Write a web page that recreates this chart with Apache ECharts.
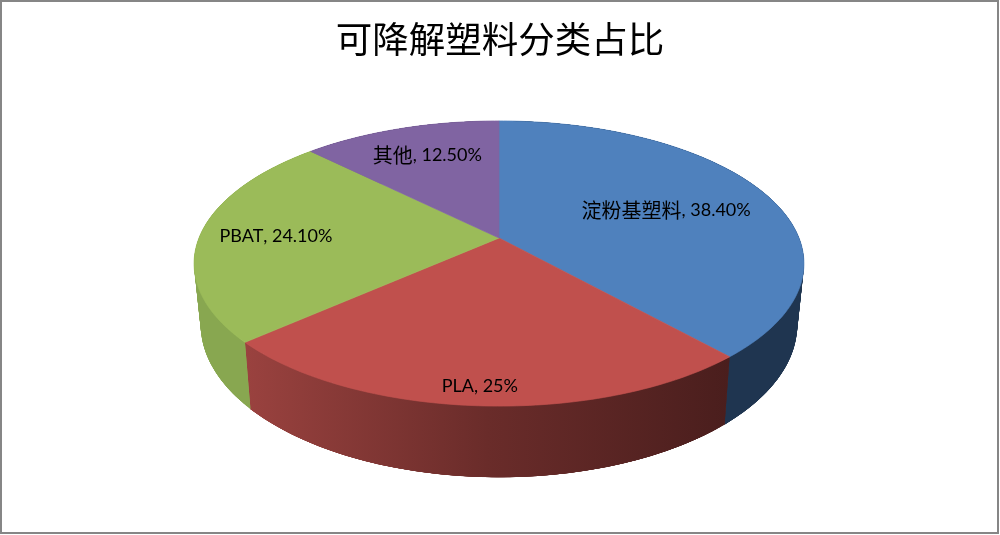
<!DOCTYPE html>
<html>
<head>
<meta charset="utf-8">
<style>html,body{margin:0;padding:0;background:#fff}#c{width:1000px;height:535px}</style>
<script src="https://cdn.jsdelivr.net/npm/echarts@6/dist/echarts.min.js"></script>
</head>
<body>
<div id="c"></div>
<script>
const titleText = '可降解塑料分类占比';
const categories = ['淀粉基塑料', 'PLA', 'PBAT', '其他'];
const values = [38.4, 25, 24.1, 12.5];
const valueLabels = ['38.40%', '25%', '24.10%', '12.50%'];

const topColors = ['#4F81BD', '#C0504D', '#9BBB59', '#8064A2'];
const wallStops = [
  [[0, '#1F3550'], [1, '#1F3550']],
  [[0, '#9A423F'], [0.5, '#6A2C2A'], [1, '#4A1E1D']],
  [[0, '#88A750'], [1, '#88A750']],
  [[0, '#5A4672'], [1, '#5A4672']]
];
const labelRadius = [0.62, 0.9, 0.74, 0.74];
const labelNudge = [[0, 2], [-1, 0], [-2, 1], [4, 1]];

/* perspective disc: u right, v towards the viewer */
const persp = 0.179;
const topPlane = {x: 499, y: 238, a: 300, b: 138};
const lowPlane = {x: 499, y: 297, a: 293.5, b: 148};
const total = values.reduce((s, v) => s + v, 0);
const starts = values.map((_, i) => values.slice(0, i).reduce((s, v) => s + v, 0));

function project(plane, fraction, r) {
  const th = fraction * 2 * Math.PI;
  const u = Math.sin(th) * r, v = -Math.cos(th) * r;
  const w = 1 - persp * v;
  return [plane.x + plane.a * u / w, plane.y + plane.b * v / w];
}
function arc(plane, i) {
  const from = starts[i] / total, to = (starts[i] + values[i]) / total;
  const n = Math.ceil((to - from) * 360);
  const pts = [];
  for (let k = 0; k <= n; k++) pts.push(project(plane, from + (to - from) * k / n, 1));
  return pts;
}
function richText(i) {
  return `{${/[^\x00-\x7f]/.test(categories[i]) ? 'c' : 'l'}|${categories[i]}}{l|, ${valueLabels[i]}}`;
}
const seriesData = values.map((v, i) => ({value: [v, i], name: categories[i]}));

const chart = echarts.init(document.getElementById('c'), null, {renderer: 'canvas'});
chart.setOption({
  animation: false,
  backgroundColor: '#ffffff',
  title: {
    text: titleText, left: 'center', top: 16,
    textStyle: {fontFamily: '"Noto Sans CJK SC"', fontSize: 36.5, fontWeight: 'normal', color: '#000000'}
  },
  graphic: [{
    type: 'rect', silent: true, z: 0,
    shape: {x: 1, y: 1, width: 997, height: 532},
    style: {fill: 'none', stroke: '#868686', lineWidth: 2}
  }],
  series: [
    {
      type: 'custom', coordinateSystem: 'none', z: 2, silent: true, data: seriesData,
      renderItem(params, api) {
        const i = api.value(1);
        const a = arc(topPlane, i), b = arc(lowPlane, i);
        const xs = a.concat(b).map(p => p[0]);
        const paint = {
          type: 'linear', global: true,
          x: Math.min(...xs), y: 0, x2: Math.max(...xs), y2: 0,
          colorStops: wallStops[i].map(s => ({offset: s[0], color: s[1]}))
        };
        const children = [{
          type: 'polygon',
          shape: {points: a.concat(b.slice().reverse())},
          style: {fill: paint}
        }];
        /* overlapping quads fill the tangent slivers beside the rim */
        for (let k = 0; k + 1 < a.length; k++) {
          const e = Math.min(k + 5, a.length - 1);
          children.push({
            type: 'polygon',
            shape: {points: [a[k], a[e], b[e], b[k]]},
            style: {fill: paint}
          });
        }
        return {type: 'group', children};
      }
    },
    {
      type: 'custom', coordinateSystem: 'none', z: 3, silent: true, data: seriesData,
      renderItem(params, api) {
        const i = api.value(1);
        return {
          type: 'polygon',
          shape: {points: [[topPlane.x, topPlane.y]].concat(arc(topPlane, i))},
          style: {fill: topColors[i], stroke: topColors[i], lineWidth: 0.7, lineJoin: 'round'}
        };
      }
    },
    {
      type: 'custom', coordinateSystem: 'none', z: 4, silent: true, data: seriesData,
      renderItem(params, api) {
        const i = api.value(1);
        const mid = (starts[i] + values[i] / 2) / total;
        const p = project(topPlane, mid, labelRadius[i]);
        return {
          type: 'text',
          style: {
            x: p[0] + labelNudge[i][0], y: p[1] + labelNudge[i][1],
            text: richText(i), align: 'center', verticalAlign: 'middle',
            fill: '#000000',
            rich: {
              c: {fontFamily: '"Noto Sans CJK SC"', fontSize: 20, fill: '#000000'},
              l: {fontFamily: 'Lato', fontSize: 18, fill: '#000000'}
            }
          }
        };
      }
    }
  ]
});
</script>
</body>
</html>
